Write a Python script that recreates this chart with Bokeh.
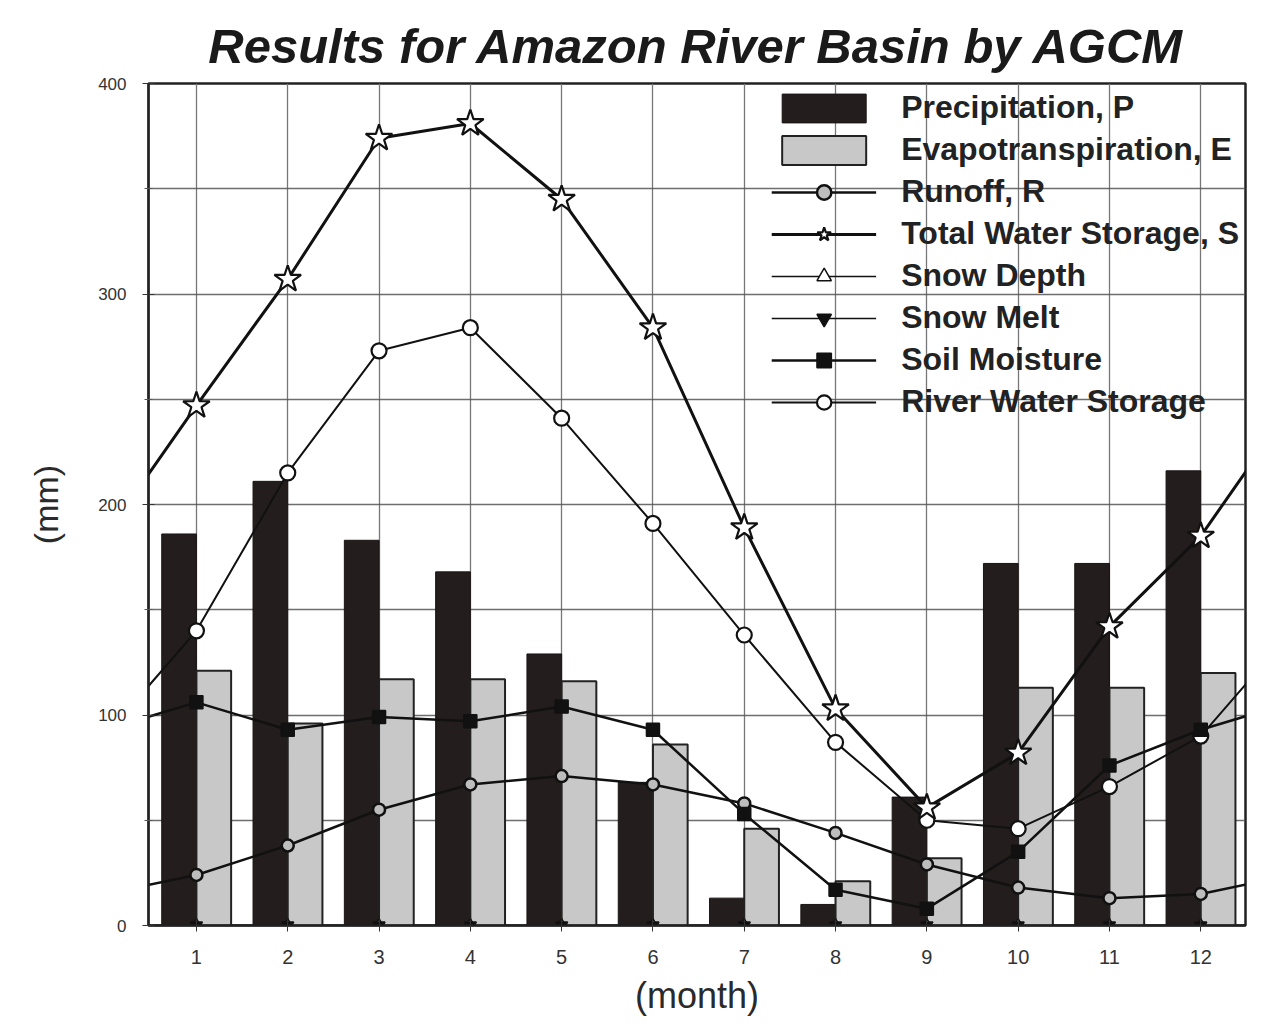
from bokeh.plotting import figure
from bokeh.models import Range1d, FixedTicker, ColumnDataSource, Legend, LegendItem
from bokeh.transform import dodge
from bokeh.embed import file_html
from bokeh.resources import INLINE

months = [1, 2, 3, 4, 5, 6, 7, 8, 9, 10, 11, 12]
precip = [186, 211, 183, 168, 129, 68, 13, 10, 61, 172, 172, 216]
evapo = [121, 96, 117, 117, 116, 86, 46, 21, 32, 113, 113, 120]
runoff = [24, 38, 55, 67, 71, 67, 58, 44, 29, 18, 13, 15]
total_storage = [247, 307, 374, 381, 345, 284, 189, 103, 56, 82, 142, 185]
snow_depth = [0, 0, 0, 0, 0, 0, 0, 0, 0, 0, 0, 0]
snow_melt = [0, 0, 0, 0, 0, 0, 0, 0, 0, 0, 0, 0]
soil_moisture = [106, 93, 99, 97, 104, 93, 53, 17, 8, 35, 76, 93]
river_storage = [140, 215, 273, 284, 241, 191, 138, 87, 50, 46, 66, 90]
y_ticks = [0, 100, 200, 300, 400]

FONT = "Liberation Sans"

def cyc(vals):
    # annual cycle: December precedes January, January follows December
    return [months[0] - 1] + months + [months[-1] + 1], [vals[-1]] + vals + [vals[0]]

p = figure(width=1260, height=1020, output_backend="svg", toolbar_location=None,
           x_range=Range1d(0.475, 12.49), y_range=Range1d(0, 400),
           min_border_left=148, min_border_right=15, min_border_top=83, min_border_bottom=95)

p.title.text = "Results for Amazon River Basin by AGCM"
p.title.text_font = FONT
p.title.text_font_size = "49px"
p.title.text_font_style = "bold italic"
p.title.align = "center"
p.title.text_color = "#1a1a1a"
p.title.standoff = 22

p.outline_line_color = "#222222"
p.outline_line_width = 2.5
p.background_fill_color = "white"

# grids
p.xgrid.ticker = FixedTicker(ticks=months)
p.xgrid.grid_line_color = "#777777"
p.xgrid.grid_line_width = 1.3
p.ygrid.ticker = FixedTicker(ticks=[50, 100, 150, 200, 250, 300, 350])
p.ygrid.grid_line_color = "#555555"
p.ygrid.grid_line_width = 1.6
p.ygrid.grid_line_alpha = 0.85

# axes
p.xaxis.ticker = FixedTicker(ticks=months)
p.yaxis.ticker = FixedTicker(ticks=y_ticks, minor_ticks=[50, 150, 250, 350])
for ax in (p.xaxis[0], p.yaxis[0]):
    ax.axis_line_color = "#222222"
    ax.axis_line_width = 2
    ax.major_tick_line_color = "#333333"
    ax.minor_tick_line_color = "#555555"
    ax.major_tick_in = 6
    ax.major_tick_out = 6
    ax.minor_tick_in = 4
    ax.minor_tick_out = 4
    ax.major_label_text_font = FONT
    ax.major_label_text_color = "#333333"
    ax.axis_label_text_font = FONT
    ax.axis_label_text_font_style = "normal"
    ax.axis_label_text_color = "#2a2a2a"

p.xaxis.major_label_text_font_size = "20px"
p.xaxis.major_label_standoff = 18
p.xaxis.axis_label = "(month)"
p.xaxis.axis_label_text_font_size = "36px"
p.xaxis.axis_label_standoff = 8

p.yaxis.major_label_text_font_size = "17px"
p.yaxis.major_label_standoff = 16
p.yaxis.axis_label = "(mm)"
p.yaxis.axis_label_text_font_size = "34px"
p.yaxis.axis_label_standoff = 30

bars = ColumnDataSource(dict(month=months, precip=precip, evapo=evapo))
r_p = p.vbar(x=dodge("month", -0.19, range=p.x_range), top="precip", width=0.38, source=bars,
             fill_color="#241d1d", line_color="#1a1414", line_width=1)
r_e = p.vbar(x=dodge("month", 0.19, range=p.x_range), top="evapo", width=0.38, source=bars,
             fill_color="#c8c8c8", line_color="#222222", line_width=2)

def series(vals, marker, size, fill, lw, mlw):
    xs, ys = cyc(vals)
    ln = p.line(xs, ys, line_color="#111111", line_width=lw)
    mk = p.scatter(months, vals, marker=marker, size=size, fill_color=fill,
                   line_color="#111111", line_width=mlw)
    return [ln, mk]

r_run = series(runoff, "circle", 12, "#bdbdbd", 2.5, 2.5)
r_riv = series(river_storage, "circle", 15, "white", 2, 2.2)
r_soil = series(soil_moisture, "square", 13, "#111111", 2.5, 1.5)
r_sd = series(snow_depth, "triangle", 12, "white", 1.5, 1.5)
r_sm = series(snow_melt, "inverted_triangle", 12, "#111111", 1.5, 1.5)
r_tot = series(total_storage, "star", 28, "white", 3, 2.2)

legend = Legend(items=[
    LegendItem(label="Precipitation, P", renderers=[r_p]),
    LegendItem(label="Evapotranspiration, E", renderers=[r_e]),
    LegendItem(label="Runoff, R", renderers=r_run),
    LegendItem(label="Total Water Storage, S", renderers=r_tot),
    LegendItem(label="Snow Depth", renderers=r_sd),
    LegendItem(label="Snow Melt", renderers=r_sm),
    LegendItem(label="Soil Moisture", renderers=r_soil),
    LegendItem(label="River Water Storage", renderers=r_riv),
], location="top_right")
legend.background_fill_alpha = 0
legend.border_line_alpha = 0
legend.label_text_font = FONT
legend.label_text_font_style = "bold"
legend.label_text_font_size = "32px"
legend.label_text_color = "#222222"
legend.label_height = 36
legend.glyph_width = 105
legend.glyph_height = 36
legend.spacing = 5
legend.label_standoff = 25
legend.padding = 4
legend.margin = 2
p.add_layout(legend, "center")

open("out.html", "w").write(file_html(p, INLINE))
